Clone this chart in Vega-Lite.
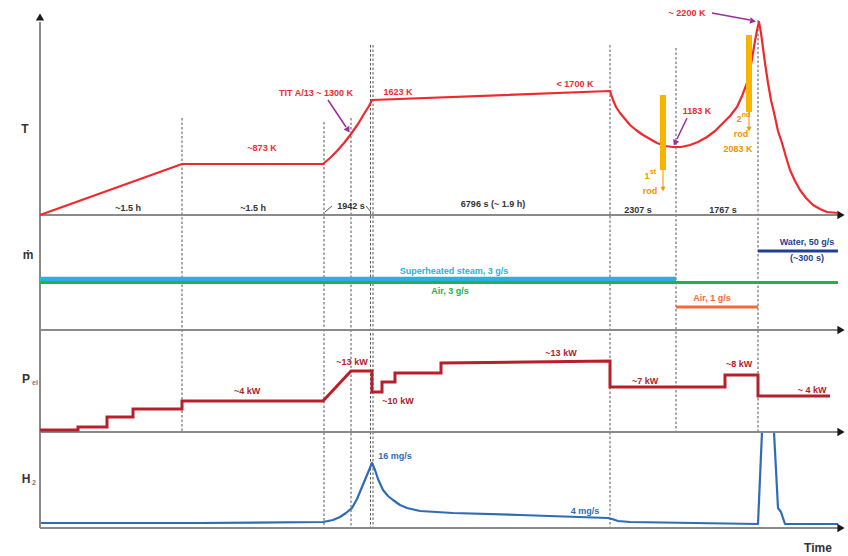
{
"$schema":"https://vega.github.io/schema/vega-lite/v6.json",
"width":848,"height":556,"padding":0,
"autosize":{"type":"fit","contains":"padding"},
"background":"#ffffff",
"config":{"view":{"stroke":null}},
"datasets":{
"curves":[
{"k":"T","i":0,"x":40,"y":215},{"k":"T","i":1,"x":182,"y":164},{"k":"T","i":2,"x":323,"y":164},{"k":"T","i":3,"x":330,"y":158},{"k":"T","i":4,"x":337,"y":151},{"k":"T","i":5,"x":344,"y":143},{"k":"T","i":6,"x":351,"y":134},{"k":"T","i":7,"x":358,"y":124},{"k":"T","i":8,"x":364,"y":114},{"k":"T","i":9,"x":369,"y":106},{"k":"T","i":10,"x":372,"y":100},{"k":"T","i":11,"x":610,"y":91},{"k":"T","i":12,"x":613,"y":100},{"k":"T","i":13,"x":616,"y":107},{"k":"T","i":14,"x":620,"y":113},{"k":"T","i":15,"x":625,"y":119},{"k":"T","i":16,"x":630,"y":125},{"k":"T","i":17,"x":636,"y":130},{"k":"T","i":18,"x":643,"y":135},{"k":"T","i":19,"x":650,"y":139},{"k":"T","i":20,"x":657,"y":143},{"k":"T","i":21,"x":665,"y":146},{"k":"T","i":22,"x":673,"y":147},{"k":"T","i":23,"x":681,"y":147},{"k":"T","i":24,"x":690,"y":145},{"k":"T","i":25,"x":698,"y":142},{"k":"T","i":26,"x":707,"y":137},{"k":"T","i":27,"x":715,"y":131},{"k":"T","i":28,"x":723,"y":123},{"k":"T","i":29,"x":730,"y":116},{"k":"T","i":30,"x":737,"y":107},{"k":"T","i":31,"x":742,"y":96},{"k":"T","i":32,"x":747,"y":83},{"k":"T","i":33,"x":750,"y":70},{"k":"T","i":34,"x":753,"y":53},{"k":"T","i":35,"x":755,"y":41},{"k":"T","i":36,"x":757,"y":30},{"k":"T","i":37,"x":759,"y":22},{"k":"T","i":38,"x":761,"y":33},{"k":"T","i":39,"x":763,"y":48},{"k":"T","i":40,"x":765,"y":63},{"k":"T","i":41,"x":768,"y":83},{"k":"T","i":42,"x":771,"y":100},{"k":"T","i":43,"x":775,"y":117},{"k":"T","i":44,"x":778,"y":131},{"k":"T","i":45,"x":782,"y":143},{"k":"T","i":46,"x":786,"y":157},{"k":"T","i":47,"x":790,"y":170},{"k":"T","i":48,"x":795,"y":181},{"k":"T","i":49,"x":800,"y":190},{"k":"T","i":50,"x":806,"y":198},{"k":"T","i":51,"x":813,"y":205},{"k":"T","i":52,"x":820,"y":209},{"k":"T","i":53,"x":827,"y":212},{"k":"T","i":54,"x":838,"y":213},
{"k":"P","i":0,"x":40,"y":430},{"k":"P","i":1,"x":78,"y":430},{"k":"P","i":2,"x":78,"y":427},{"k":"P","i":3,"x":107,"y":427},{"k":"P","i":4,"x":107,"y":417},{"k":"P","i":5,"x":133,"y":417},{"k":"P","i":6,"x":133,"y":409},{"k":"P","i":7,"x":182,"y":409},{"k":"P","i":8,"x":182,"y":401},{"k":"P","i":9,"x":323,"y":401},{"k":"P","i":10,"x":351,"y":371},{"k":"P","i":11,"x":372,"y":371},{"k":"P","i":12,"x":372,"y":392},{"k":"P","i":13,"x":382,"y":392},{"k":"P","i":14,"x":382,"y":382},{"k":"P","i":15,"x":395,"y":382},{"k":"P","i":16,"x":395,"y":373},{"k":"P","i":17,"x":441,"y":373},{"k":"P","i":18,"x":441,"y":363},{"k":"P","i":19,"x":610,"y":361},{"k":"P","i":20,"x":610,"y":387},{"k":"P","i":21,"x":725,"y":387},{"k":"P","i":22,"x":725,"y":375},{"k":"P","i":23,"x":758,"y":375},{"k":"P","i":24,"x":758,"y":396},{"k":"P","i":25,"x":830,"y":396},
{"k":"H2","i":0,"x":40,"y":523},{"k":"H2","i":1,"x":200,"y":523},{"k":"H2","i":2,"x":323,"y":522},{"k":"H2","i":3,"x":333,"y":520},{"k":"H2","i":4,"x":340,"y":517},{"k":"H2","i":5,"x":346,"y":513},{"k":"H2","i":6,"x":352,"y":508},{"k":"H2","i":7,"x":357,"y":499},{"k":"H2","i":8,"x":362,"y":487},{"k":"H2","i":9,"x":367,"y":475},{"k":"H2","i":10,"x":372,"y":463},{"k":"H2","i":11,"x":375,"y":470},{"k":"H2","i":12,"x":378,"y":479},{"k":"H2","i":13,"x":383,"y":490},{"k":"H2","i":14,"x":388,"y":496},{"k":"H2","i":15,"x":393,"y":500},{"k":"H2","i":16,"x":400,"y":505},{"k":"H2","i":17,"x":407,"y":508},{"k":"H2","i":18,"x":420,"y":511},{"k":"H2","i":19,"x":453,"y":513},{"k":"H2","i":20,"x":520,"y":515},{"k":"H2","i":21,"x":608,"y":518},{"k":"H2","i":22,"x":612,"y":519},{"k":"H2","i":23,"x":618,"y":521},{"k":"H2","i":24,"x":630,"y":522},{"k":"H2","i":25,"x":758,"y":524},{"k":"H2","i":26,"x":762,"y":432},{"k":"H2","i":27,"x":774,"y":432},{"k":"H2","i":28,"x":778,"y":508},{"k":"H2","i":29,"x":781,"y":512},{"k":"H2","i":30,"x":785,"y":524},{"k":"H2","i":31,"x":838,"y":524},
{"k":"steam","i":0,"x":40,"y":279},{"k":"steam","i":1,"x":676,"y":279},
{"k":"air3","i":0,"x":40,"y":282.5},{"k":"air3","i":1,"x":838,"y":282.5},
{"k":"air1","i":0,"x":676,"y":307},{"k":"air1","i":1,"x":758,"y":307},
{"k":"water","i":0,"x":758,"y":251},{"k":"water","i":1,"x":838,"y":251}
],
"vlines":[
{"x":182,"y":118,"y2":432},{"x":324,"y":122,"y2":528},{"x":351,"y":118,"y2":528},{"x":370.5,"y":45,"y2":528},{"x":373,"y":45,"y2":528},{"x":610,"y":45,"y2":528},{"x":676,"y":48,"y2":432},{"x":758,"y":20,"y2":432}
],
"axes":[
{"x":40,"y":22,"x2":40,"y2":528},{"x":40,"y":215,"x2":838,"y2":215},{"x":40,"y":330,"x2":838,"y2":330},{"x":40,"y":432,"x2":838,"y2":432},{"x":40,"y":528,"x2":838,"y2":528}
],
"ticks":[{"x":325,"y":212,"x2":332,"y2":206},{"x":366,"y":206,"x2":371,"y2":212}],
"rightheads":[{"x":841,"y":215},{"x":841,"y":330},{"x":841,"y":432},{"x":841,"y":528}],
"rods":[{"x":663,"y":95,"y2":170},{"x":749,"y":35,"y2":112}],
"rodpointers":[{"x":663,"y":170,"y2":187},{"x":749,"y":112,"y2":127}],
"rodheads":[{"x":663,"y":189},{"x":749,"y":129}],
"pointers":[{"x":328,"y":100,"x2":346,"y2":127},{"x":712,"y":13,"x2":750,"y2":20},{"x":687,"y":118,"x2":677,"y2":139}],
"pheads":[{"id":"a1","x":348,"y":130},{"id":"a2","x":753,"y":21},{"id":"a3","x":675,"y":143}],
"texts":[
{"r":"big","k":"ax","t":"T","x":25,"y":129},
{"r":"big","k":"ax","t":"ṁ","x":28,"y":255},
{"r":"big","k":"ax","t":"P","x":26,"y":379},
{"r":"small","k":"sub","t":"el","x":35,"y":383},
{"r":"big","k":"ax","t":"H","x":26,"y":479},
{"r":"small","k":"sub","t":"2","x":34,"y":483},
{"r":"big","k":"ax","t":"Time","x":818,"y":548},
{"r":"lab","k":"dur","t":"~1.5 h","x":128,"y":208},
{"r":"lab","k":"dur","t":"~1.5 h","x":253,"y":208},
{"r":"lab","k":"dur","t":"1942 s","x":351,"y":206},
{"r":"lab","k":"dur","t":"6796 s (~ 1.9 h)","x":493,"y":204},
{"r":"lab","k":"dur","t":"2307 s","x":638,"y":210},
{"r":"lab","k":"dur","t":"1767 s","x":723,"y":210},
{"r":"lab","k":"T","t":"~873 K","x":262,"y":148},
{"r":"lab","k":"T","t":"TIT A/13 ~ 1300 K","x":316,"y":93},
{"r":"lab","k":"T","t":"1623 K","x":398,"y":92},
{"r":"lab","k":"T","t":"< 1700 K","x":575,"y":84},
{"r":"lab","k":"T","t":"~ 2200 K","x":687,"y":13},
{"r":"lab","k":"T","t":"1183 K","x":697,"y":111},
{"r":"lab","k":"rod","t":"1","x":647,"y":176},
{"r":"small","k":"rod","t":"st","x":653,"y":172},
{"r":"lab","k":"rod","t":"rod","x":650,"y":191},
{"r":"lab","k":"rod","t":"2","x":739,"y":119},
{"r":"small","k":"rod","t":"nd","x":746,"y":115},
{"r":"lab","k":"rod","t":"rod","x":741,"y":134},
{"r":"lab","k":"rod","t":"2083 K","x":738,"y":149},
{"r":"lab","k":"steam","t":"Superheated steam, 3 g/s","x":454,"y":271},
{"r":"lab","k":"air3","t":"Air, 3 g/s","x":450,"y":291},
{"r":"lab","k":"air1","t":"Air, 1 g/s","x":712,"y":298},
{"r":"lab","k":"water","t":"Water, 50 g/s","x":807,"y":242},
{"r":"lab","k":"water","t":"(~300 s)","x":807,"y":258},
{"r":"lab","k":"P","t":"~4 kW","x":247,"y":391},
{"r":"lab","k":"P","t":"~13 kW","x":352,"y":362},
{"r":"lab","k":"P","t":"~10 kW","x":398,"y":401},
{"r":"lab","k":"P","t":"~13 kW","x":561,"y":353},
{"r":"lab","k":"P","t":"~7 kW","x":645,"y":381},
{"r":"lab","k":"P","t":"~8 kW","x":739,"y":364},
{"r":"lab","k":"P","t":"~ 4 kW","x":812,"y":390},
{"r":"lab","k":"H2","t":"16 mg/s","x":395,"y":456},
{"r":"lab","k":"H2","t":"4 mg/s","x":585,"y":511}
]
},
"encoding":{
"x":{"field":"x","type":"quantitative","scale":{"domain":[0,848],"nice":false,"zero":false},"axis":null},
"y":{"field":"y","type":"quantitative","scale":{"domain":[0,556],"reverse":true,"nice":false,"zero":false},"axis":null}
},
"layer":[
{"data":{"name":"vlines"},"mark":{"type":"rule","color":"#555555","strokeWidth":1,"strokeDash":[2.5,2]},"encoding":{"y2":{"field":"y2"}}},
{"data":{"name":"ticks"},"mark":{"type":"rule","color":"#555555","strokeWidth":1},"encoding":{"x2":{"field":"x2"},"y2":{"field":"y2"}}},
{"data":{"name":"curves"},"transform":[{"filter":"datum.k==='H2'"}],"mark":{"type":"line","strokeWidth":2.2,"strokeJoin":"round"},"encoding":{"order":{"field":"i"},"color":{"field":"k","type":"nominal","legend":null,"scale":{"domain":["T","P","H2","steam","air3","air1","water","dur","rod","ax","sub"],"range":["#ee2a2e","#b5202a","#2e6db4","#2bb0e4","#22b14c","#f26a36","#233f94","#333333","#f39200","#333333","#777777"]}}}},
{"data":{"name":"axes"},"mark":{"type":"rule","color":"#8a8a8a","strokeWidth":2},"encoding":{"x2":{"field":"x2"},"y2":{"field":"y2"}}},
{"data":{"values":[{"x":40,"y":17}]},"mark":{"type":"point","shape":"triangle-up","filled":true,"color":"#1a1a1a","size":70,"opacity":1}},
{"data":{"name":"rightheads"},"mark":{"type":"point","shape":"triangle-right","filled":true,"color":"#1a1a1a","size":70,"opacity":1}},
{"data":{"name":"curves"},"transform":[{"filter":"datum.k==='steam'"}],"mark":{"type":"line","strokeWidth":4.5},"encoding":{"order":{"field":"i"},"color":{"field":"k","type":"nominal","legend":null,"scale":{"domain":["T","P","H2","steam","air3","air1","water","dur","rod","ax","sub"],"range":["#ee2a2e","#b5202a","#2e6db4","#2bb0e4","#22b14c","#f26a36","#233f94","#333333","#f39200","#333333","#777777"]}}}},
{"data":{"name":"curves"},"transform":[{"filter":"datum.k==='air3' || datum.k==='air1' || datum.k==='water' || datum.k==='P'"}],"mark":{"type":"line","strokeWidth":3},"encoding":{"order":{"field":"i"},"color":{"field":"k","type":"nominal","legend":null,"scale":{"domain":["T","P","H2","steam","air3","air1","water","dur","rod","ax","sub"],"range":["#ee2a2e","#b5202a","#2e6db4","#2bb0e4","#22b14c","#f26a36","#233f94","#333333","#f39200","#333333","#777777"]}}}},
{"data":{"name":"curves"},"transform":[{"filter":"datum.k==='T'"}],"mark":{"type":"line","strokeWidth":2.2,"strokeJoin":"round"},"encoding":{"order":{"field":"i"},"color":{"field":"k","type":"nominal","legend":null,"scale":{"domain":["T","P","H2","steam","air3","air1","water","dur","rod","ax","sub"],"range":["#ee2a2e","#b5202a","#2e6db4","#2bb0e4","#22b14c","#f26a36","#233f94","#333333","#f39200","#333333","#777777"]}}}},
{"data":{"name":"rods"},"mark":{"type":"rule","color":"#f7b500","strokeWidth":6},"encoding":{"y2":{"field":"y2"}}},
{"data":{"name":"rodpointers"},"mark":{"type":"rule","color":"#f39200","strokeWidth":1},"encoding":{"y2":{"field":"y2"}}},
{"data":{"name":"rodheads"},"mark":{"type":"point","shape":"triangle-down","filled":true,"color":"#f39200","size":25,"opacity":1}},
{"data":{"name":"pointers"},"mark":{"type":"rule","color":"#9b2d9b","strokeWidth":1.5},"encoding":{"x2":{"field":"x2"},"y2":{"field":"y2"}}},
{"data":{"name":"pheads"},"transform":[{"filter":"datum.id==='a1'"}],"mark":{"type":"point","shape":"triangle-up","filled":true,"color":"#9b2d9b","size":45,"opacity":1,"angle":147}},
{"data":{"name":"pheads"},"transform":[{"filter":"datum.id==='a2'"}],"mark":{"type":"point","shape":"triangle-up","filled":true,"color":"#9b2d9b","size":45,"opacity":1,"angle":100}},
{"data":{"name":"pheads"},"transform":[{"filter":"datum.id==='a3'"}],"mark":{"type":"point","shape":"triangle-up","filled":true,"color":"#9b2d9b","size":45,"opacity":1,"angle":206}},
{"data":{"name":"texts"},"transform":[{"filter":"datum.r==='lab'"}],"mark":{"type":"text","font":"Liberation Sans","fontWeight":"bold","fontSize":9,"align":"center","baseline":"middle"},"encoding":{"text":{"field":"t"},"color":{"field":"k","type":"nominal","legend":null,"scale":{"domain":["T","P","H2","steam","air3","air1","water","dur","rod","ax","sub"],"range":["#ee2a2e","#b5202a","#2e6db4","#2bb0e4","#22b14c","#f26a36","#233f94","#333333","#f39200","#333333","#777777"]}}}},
{"data":{"name":"texts"},"transform":[{"filter":"datum.r==='big'"}],"mark":{"type":"text","font":"Liberation Sans","fontWeight":"bold","fontSize":12,"align":"center","baseline":"middle"},"encoding":{"text":{"field":"t"},"color":{"field":"k","type":"nominal","legend":null,"scale":{"domain":["T","P","H2","steam","air3","air1","water","dur","rod","ax","sub"],"range":["#ee2a2e","#b5202a","#2e6db4","#2bb0e4","#22b14c","#f26a36","#233f94","#333333","#f39200","#333333","#777777"]}}}},
{"data":{"name":"texts"},"transform":[{"filter":"datum.r==='small'"}],"mark":{"type":"text","font":"Liberation Sans","fontWeight":"bold","fontSize":7,"align":"center","baseline":"middle"},"encoding":{"text":{"field":"t"},"color":{"field":"k","type":"nominal","legend":null,"scale":{"domain":["T","P","H2","steam","air3","air1","water","dur","rod","ax","sub"],"range":["#ee2a2e","#b5202a","#2e6db4","#2bb0e4","#22b14c","#f26a36","#233f94","#333333","#f39200","#333333","#777777"]}}}}
]
}
